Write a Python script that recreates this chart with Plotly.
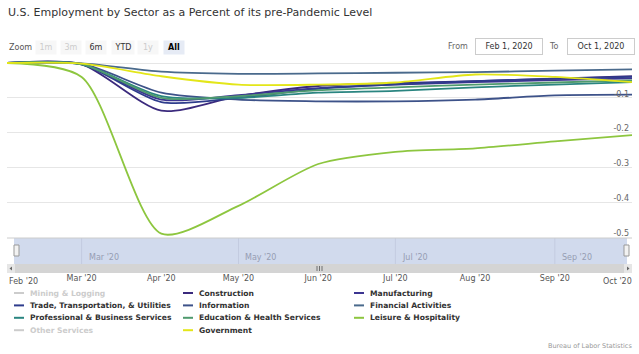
import plotly.graph_objects as go

# ---------------- data ----------------
dates = ['2020-02-01', '2020-03-01', '2020-04-01', '2020-05-01', '2020-06-01',
         '2020-07-01', '2020-08-01', '2020-09-01', '2020-10-01']

series_names = ['Mining & Logging', 'Construction', 'Manufacturing',
                'Trade, Transportation, & Utilities', 'Information', 'Financial Activities',
                'Professional & Business Services', 'Education & Health Services',
                'Leisure & Hospitality', 'Other Services', 'Government']

mining_logging = []          # hidden in the reference (legend item greyed out)
construction = [0, -0.004, -0.137, -0.095, -0.066, -0.058, -0.052, -0.045, -0.038]
manufacturing = [0, -0.003, -0.105, -0.092, -0.072, -0.062, -0.055, -0.049, -0.044]
trade_transport = [0, -0.004, -0.112, -0.100, -0.074, -0.061, -0.052, -0.045, -0.040]
information = [0, -0.002, -0.085, -0.105, -0.110, -0.110, -0.105, -0.093, -0.091]
financial = [0, -0.001, -0.025, -0.031, -0.030, -0.028, -0.026, -0.022, -0.018]
professional = [0, -0.004, -0.095, -0.100, -0.085, -0.080, -0.070, -0.062, -0.055]
education_health = [0, -0.003, -0.100, -0.095, -0.078, -0.070, -0.062, -0.056, -0.050]
leisure = [0, -0.040, -0.490, -0.410, -0.290, -0.255, -0.245, -0.225, -0.207]
other_services = []          # hidden in the reference
government = [0, -0.002, -0.038, -0.062, -0.062, -0.056, -0.033, -0.040, -0.055]

series_values = [mining_logging, construction, manufacturing, trade_transport, information,
                 financial, professional, education_health, leisure, other_services, government]
series_hidden = [True, False, False, False, False, False, False, False, False, True, False]
series_colors = ['#cccccc', '#3b2a7d', '#3c3591', '#2e3c8c', '#3d5289', '#4a6a8c',
                 '#2a8580', '#4f9a6e', '#8dc63f', '#cccccc', '#e3e619']

y_tick_vals = [0, -0.1, -0.2, -0.3, -0.4, -0.5, -0.6]
y_tick_text = ['', '-0.1', '-0.2', '-0.3', '-0.4', '-0.5', '-0.6']
x_tick_vals = dates
x_tick_text = ["Feb '20", "Mar '20", "Apr '20", "May '20", "Jun '20",
               "Jul '20", "Aug '20", "Sep '20", "Oct '20"]
nav_tick_vals = ['2020-03-01', '2020-05-01', '2020-07-01', '2020-09-01']
nav_tick_text = ["Mar '20", "May '20", "Jul '20", "Sep '20"]
zoom_buttons = ['1m', '3m', '6m', 'YTD', '1y', 'All']
zoom_enabled = [False, False, True, True, False, True]
from_date, to_date = 'Feb 1, 2020', 'Oct 1, 2020'

# ---------------- layout helpers ----------------
W, H = 639, 354
ML, MR, MT, MB = 7, 7, 58, 82
PW, PH = W - ML - MR, H - MT - MB
FONT = 'DejaVu Sans'


def px(x):
    return (x - ML) / PW


def py(y):
    return (H - MB - y) / PH


fig = go.Figure()
for name, vals, color, hid in zip(series_names, series_values, series_colors, series_hidden):
    if hid:
        continue
    fig.add_trace(go.Scatter(
        x=dates[:len(vals)], y=vals, name=name, mode='lines',
        line=dict(color=color, width=1.8, shape='spline', smoothing=0.75),
        showlegend=False, hoverinfo='skip'))

shapes = []
ann = []

# navigator (drawn under grid / data)
shapes.append(dict(type='rect', xref='paper', yref='paper', x0=px(14), x1=px(627),
                   y0=py(264), y1=py(238), fillcolor='#d1daed', line=dict(width=0), layer='below'))
for d in nav_tick_vals:
    shapes.append(dict(type='line', xref='x', yref='paper', x0=d, x1=d,
                       y0=py(264), y1=py(238), line=dict(color='#c3cbe0', width=1), layer='below'))
shapes.append(dict(type='line', xref='paper', yref='paper', x0=0, x1=1, y0=py(238), y1=py(238),
                   line=dict(color='#cccccc', width=1), layer='below'))
# scrollbar
shapes.append(dict(type='rect', xref='paper', yref='paper', x0=px(7), x1=px(632),
                   y0=py(273), y1=py(264), fillcolor='#d4d4d4', line=dict(width=0), layer='below'))
for xx in (7, 624):
    shapes.append(dict(type='rect', xref='paper', yref='paper', x0=px(xx), x1=px(xx + 8),
                       y0=py(273), y1=py(264), fillcolor='#e6e6e6', line=dict(width=0), layer='below'))
for gx in (317, 319.5, 322):
    shapes.append(dict(type='line', xref='paper', yref='paper', x0=px(gx), x1=px(gx),
                       y0=py(271), y1=py(266), line=dict(color='#555555', width=0.8), layer='below'))
shapes.append(dict(type='path', xref='paper', yref='paper', layer='below',
                   path=f'M {px(12)},{py(266.5)} L {px(9.5)},{py(268.5)} L {px(12)},{py(270.5)} Z',
                   fillcolor='#666666', line=dict(width=0)))
shapes.append(dict(type='path', xref='paper', yref='paper', layer='below',
                   path=f'M {px(627)},{py(266.5)} L {px(629.5)},{py(268.5)} L {px(627)},{py(270.5)} Z',
                   fillcolor='#666666', line=dict(width=0)))
# navigator handles
for hx in (14, 624):
    shapes.append(dict(type='rect', xref='paper', yref='paper', x0=px(hx), x1=px(hx + 5),
                       y0=py(256), y1=py(245), fillcolor='#f2f2f2',
                       line=dict(color='#999999', width=1)))
for d, t in zip(nav_tick_vals, nav_tick_text):
    ann.append(dict(x=d, xref='x', y=py(257), yref='paper', text=t, showarrow=False,
                    xanchor='left', yanchor='middle', xshift=5,
                    font=dict(family=FONT, size=8, color='#969db3')))

# x labels at the ends (justified like Highcharts)
ann.append(dict(x=dates[0], xref='x', y=py(281), yref='paper', text=x_tick_text[0], showarrow=False,
                xanchor='left', yanchor='middle', xshift=0, font=dict(family=FONT, size=8, color='#555555')))
ann.append(dict(x=dates[-1], xref='x', y=py(281), yref='paper', text=x_tick_text[-1], showarrow=False,
                xanchor='right', yanchor='middle', xshift=2, font=dict(family=FONT, size=8, color='#555555')))

# title
ann.append(dict(x=px(6), xref='paper', y=py(13), yref='paper', text='U.S. Employment by Sector as a Percent of its pre-Pandemic Level',
                showarrow=False, xanchor='left', yanchor='middle', font=dict(family=FONT, size=11, color='#333333')))

# range selector
ann.append(dict(x=px(7), xref='paper', y=py(47), yref='paper', text='Zoom', showarrow=False,
                xanchor='left', yanchor='middle', font=dict(family=FONT, size=8, color='#555555')))
btn_x = [35, 60, 85, 111, 137, 163]
for bx, label, en in zip(btn_x, zoom_buttons, zoom_enabled):
    sel = label == 'All'
    ann.append(dict(x=px(bx), xref='paper', y=py(47), yref='paper', showarrow=False,
                    text=f'<b>{label}</b>' if sel else label,
                    xanchor='left', yanchor='middle', width=20 if label != 'YTD' else 22, height=13,
                    bgcolor='#e6ebf5' if sel else '#f7f7f7', borderpad=0,
                    font=dict(family=FONT, size=8, color='#000000' if sel else ('#333333' if en else '#cccccc'))))
# from / to
ann.append(dict(x=px(470), xref='paper', y=py(46), yref='paper', text='From', showarrow=False,
                xanchor='right', yanchor='middle', font=dict(family=FONT, size=8, color='#666666')))
ann.append(dict(x=px(475), xref='paper', y=py(46), yref='paper', text=from_date, showarrow=False,
                xanchor='left', yanchor='middle', width=64, height=13, bordercolor='#cccccc', borderwidth=1,
                bgcolor='#ffffff', font=dict(family=FONT, size=8, color='#333333')))
ann.append(dict(x=px(561), xref='paper', y=py(46), yref='paper', text='To', showarrow=False,
                xanchor='right', yanchor='middle', font=dict(family=FONT, size=8, color='#666666')))
ann.append(dict(x=px(567), xref='paper', y=py(46), yref='paper', text=to_date, showarrow=False,
                xanchor='left', yanchor='middle', width=64, height=13, bordercolor='#cccccc', borderwidth=1,
                bgcolor='#ffffff', font=dict(family=FONT, size=8, color='#333333')))

# legend (Highcharts-like, 3 columns)
col_x = [14, 183, 354]
for i, (name, color, hid) in enumerate(zip(series_names, series_colors, series_hidden)):
    cx = col_x[i % 3]
    cy = 293 + (i // 3) * 12.4
    shapes.append(dict(type='line', xref='paper', yref='paper', x0=px(cx), x1=px(cx + 10),
                       y0=py(cy), y1=py(cy), line=dict(color=color, width=2)))
    ann.append(dict(x=px(cx + 14), xref='paper', y=py(cy), yref='paper', text=f'<b>{name}</b>',
                    showarrow=False, xanchor='left', yanchor='middle',
                    font=dict(family=FONT, size=7.6, color='#cccccc' if hid else '#333333')))

# credits
ann.append(dict(x=px(634), xref='paper', y=py(346), yref='paper', text='Bureau of Labor Statistics',
                showarrow=False, xanchor='right', yanchor='middle', font=dict(family=FONT, size=6.5, color='#999999')))

fig.update_layout(
    width=W, height=H, margin=dict(l=ML, r=MR, t=MT, b=MB),
    paper_bgcolor='#ffffff', plot_bgcolor='#ffffff',
    showlegend=False, shapes=shapes, annotations=ann,
    font=dict(family=FONT),
    xaxis=dict(range=[dates[0], dates[-1]], showgrid=False, zeroline=False, showline=False,
               tickvals=x_tick_vals[1:-1], ticktext=x_tick_text[1:-1], ticks='',
               tickfont=dict(family=FONT, size=8, color='#555555'), automargin=False),
    yaxis=dict(range=[-0.6, 0.0144], side='right', ticklabelposition='inside', tickvals=y_tick_vals,
               ticktext=y_tick_text, showgrid=True, gridcolor='#e6e6e6', gridwidth=1, zeroline=False,
               showline=False, ticks='', ticklabelshift=-4,
               tickfont=dict(family=FONT, size=8, color='#666666'), automargin=False),
)

fig.write_html('out.html')
